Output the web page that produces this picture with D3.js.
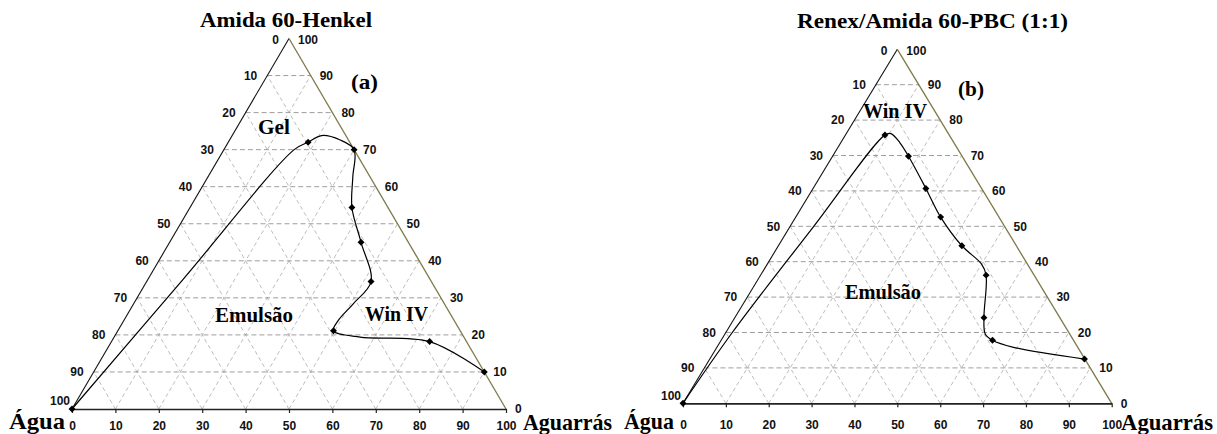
<!DOCTYPE html>
<html>
<head>
<meta charset="utf-8">
<script src="https://cdn.jsdelivr.net/npm/d3@7"></script>
<style>
  html, body { margin: 0; padding: 0; background: #fff; }
  svg { display: block; }
</style>
</head>
<body>
<svg id="chart" width="1217" height="434"></svg>
<script>
// Axis graduations (percent)
const tickValues = [0, 10, 20, 30, 40, 50, 60, 70, 80, 90, 100];

// (a) Amida 60-Henkel — measured compositions (Aguarrás %, Amida %)
const pointsA_aguarras = [0, 18.4, 30, 37.3, 44.1, 51.7, 49.7, 73.3, 90];
const pointsA_amida    = [0, 72, 70, 54.4, 45, 34.4, 21.1, 18.2, 10];
// (a) phase boundary trace
const boundaryA_aguarras = [0, 8.1, 16.2, 18.4, 20.6, 25.5, 30, 33.4, 37.3, 44.1, 51.7, 50.6, 49.4, 49.7, 56.7, 73.3, 90];
const boundaryA_amida    = [0, 35, 70, 72, 73.8, 72.6, 70, 62.6, 54.4, 45, 34.4, 28.4, 23.9, 21.1, 19.4, 18.2, 10];

// (b) Renex/Amida 60-PBC (1:1) — measured compositions
const pointsB_aguarras = [0, 9.2, 17.7, 26.3, 33.8, 42.8, 52.6, 58.1, 63.3, 87.4];
const pointsB_amida    = [0, 75.8, 69.8, 60.7, 52.6, 44.5, 36.2, 24.2, 17.8, 12.5];
// (b) phase boundary trace
const boundaryB_aguarras = [0, 1.5, 5.5, 9.2, 10.4, 13.8, 17.7, 26.3, 33.8, 42.8, 50.0, 52.6, 58.1, 60.7, 63.3, 69.2, 87.4];
const boundaryB_amida    = [0, 20, 50, 75.8, 76.2, 73.6, 69.8, 60.7, 52.6, 44.5, 39.3, 36.2, 24.2, 19.6, 17.8, 15.8, 12.5];

const SERIF = "'Liberation Serif', 'Times New Roman', serif";
const SANS = "'Liberation Sans', Arial, sans-serif";

const svg = d3.select("#chart");
svg.append("rect").attr("width", 1217).attr("height", 434).attr("fill", "#fff");

function zip(a, b) { return a.map((v, i) => [v, b[i]]); }

function drawDiagram(L, D) {
  const g = svg.append("g");
  const x = d3.scaleLinear().domain([0, 100]).range([L.xL, L.xR]);
  const y = d3.scaleLinear().domain([0, 100]).range([L.yB, L.yT]);
  // ternary -> screen: bottom coordinate = Aguarrás, height = Amida
  const px = d => x(d[0] + d[1] / 2);
  const py = d => y(d[1]);

  // dashed grid
  const levels = tickValues.filter(v => v > 0 && v < 100);
  const diag = [], horiz = [];
  levels.forEach(v => {
    diag.push([[v, 0], [v, 100 - v]]);
    diag.push([[100 - v, 0], [0, 100 - v]]);
    horiz.push([[0, v], [100 - v, v]]);
  });
  g.append("g").selectAll("line").data(diag).join("line")
    .attr("x1", d => px(d[0])).attr("y1", d => py(d[0]))
    .attr("x2", d => px(d[1])).attr("y2", d => py(d[1]))
    .attr("stroke", "#bdbdbd").attr("stroke-width", 1)
    .attr("stroke-dasharray", "4,3");
  g.append("g").selectAll("line").data(horiz).join("line")
    .attr("x1", d => px(d[0])).attr("y1", d => py(d[0]))
    .attr("x2", d => px(d[1])).attr("y2", d => py(d[1]))
    .attr("stroke", "#9e9e9e").attr("stroke-width", 1)
    .attr("stroke-dasharray", "5,3");

  // triangle sides
  g.append("line")
    .attr("x1", px([0, 0])).attr("y1", py([0, 0]))
    .attr("x2", px([0, 100])).attr("y2", py([0, 100]))
    .attr("stroke", "#111").attr("stroke-width", 1.1);
  g.append("line")
    .attr("x1", px([100, 0])).attr("y1", py([100, 0]))
    .attr("x2", px([0, 100])).attr("y2", py([0, 100]))
    .attr("stroke", "#7d7947").attr("stroke-width", 1.3);

  // bottom axis
  const axis = d3.axisBottom(x).tickValues(tickValues).tickSize(4)
    .tickSizeOuter(0).tickPadding(L.pad);
  g.append("g").attr("transform", `translate(0,${L.yB})`).call(axis)
    .call(a => a.select(".domain").attr("stroke", "#222").attr("stroke-width", 1.7))
    .call(a => a.selectAll(".tick line").attr("stroke", "#222").attr("stroke-width", 1.2))
    .call(a => a.selectAll("text").attr("font-family", SANS).attr("font-weight", "bold")
      .attr("font-size", 12).attr("fill", "#111"));

  // left side graduations (100 - Amida)
  g.append("g").selectAll("text").data(tickValues).join("text")
    .attr("x", v => v === 0 ? px([0, v]) - 2 : px([0, v]) - 10)
    .attr("y", v => v === 0 ? py([0, v]) - 8 : (v === 100 ? py([0, v]) + 1 : py([0, v])))
    .attr("dy", "0.36em").attr("text-anchor", "end")
    .attr("font-family", SANS).attr("font-weight", "bold").attr("font-size", 12)
    .attr("fill", "#111")
    .text(v => 100 - v);

  // right side graduations (Amida)
  g.append("g").selectAll("text").data(tickValues).join("text")
    .attr("x", v => px([100 - v, v]) + 9)
    .attr("y", v => v === 100 ? py([100 - v, v]) + 1 : py([100 - v, v]))
    .attr("dy", "0.36em").attr("text-anchor", "start")
    .attr("font-family", SANS).attr("font-weight", "bold").attr("font-size", 12)
    .attr("fill", "#111")
    .text(v => v);

  // phase boundary
  const line = d3.line().x(px).y(py).curve(d3.curveCatmullRom.alpha(0.5));
  g.append("path").datum(D.boundary).attr("d", line)
    .attr("fill", "none").attr("stroke", "#000").attr("stroke-width", 1.2);

  // measured points
  g.append("g").selectAll("path").data(D.points).join("path")
    .attr("d", d3.symbol(d3.symbolSquare, 24))
    .attr("transform", d => `translate(${px(d)},${py(d)}) rotate(45)`)
    .attr("fill", "#000");

  // text labels
  L.labels.forEach(t => {
    g.append("text")
      .attr("x", t.x).attr("y", t.y)
      .attr("font-family", SERIF).attr("font-weight", "bold")
      .attr("font-size", t.size).attr("fill", "#000")
      .attr("textLength", t.w).attr("lengthAdjust", "spacingAndGlyphs")
      .text(t.text);
  });
}

drawDiagram(
  { xL: 72, xR: 506, yB: 409, yT: 38.5, pad: 8,
    labels: [
      { text: "Amida 60-Henkel", x: 200, y: 27, w: 172, size: 21 },
      { text: "(a)", x: 351, y: 89, w: 27, size: 22 },
      { text: "Gel", x: 258, y: 134, w: 32, size: 21 },
      { text: "Emulsão", x: 215, y: 322, w: 78, size: 21 },
      { text: "Win IV", x: 365, y: 321, w: 63, size: 21 },
      { text: "Água", x: 9, y: 429, w: 56, size: 24 },
      { text: "Aguarrás", x: 523, y: 430, w: 89, size: 23 }
    ] },
  { points: zip(pointsA_aguarras, pointsA_amida),
    boundary: zip(boundaryA_aguarras, boundaryA_amida) }
);

drawDiagram(
  { xL: 683, xR: 1111.7, yB: 403.3, yT: 49.3, pad: 13,
    labels: [
      { text: "Renex/Amida 60-PBC (1:1)", x: 797, y: 28, w: 271, size: 22 },
      { text: "(b)", x: 958, y: 96, w: 26, size: 22 },
      { text: "Win IV", x: 863, y: 118, w: 64, size: 21 },
      { text: "Emulsão", x: 845, y: 299, w: 76, size: 21 },
      { text: "Água", x: 624, y: 429, w: 50, size: 24 },
      { text: "Aguarrás", x: 1121, y: 430, w: 92, size: 23 }
    ] },
  { points: zip(pointsB_aguarras, pointsB_amida),
    boundary: zip(boundaryB_aguarras, boundaryB_amida) }
);
</script>
</body>
</html>
